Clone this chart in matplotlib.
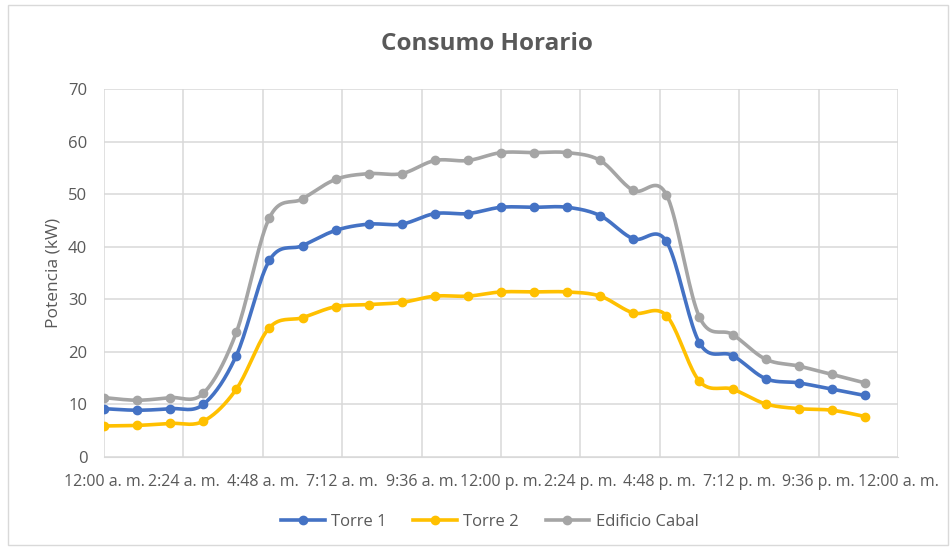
import numpy as np
import matplotlib
matplotlib.use("Agg")
import matplotlib.pyplot as plt
from matplotlib.patches import Rectangle

# hourly readings, 0:00 .. 23:00
hours = list(range(24))
torre1 = [9.2, 8.9, 9.2, 10.0, 19.3, 37.4, 40.2, 43.1, 44.3, 44.3, 46.3, 46.3,
          47.5, 47.5, 47.5, 45.9, 41.5, 41.0, 21.7, 19.3, 14.9, 14.1, 12.9, 11.7]
torre2 = [5.9, 6.0, 6.4, 6.8, 12.9, 24.6, 26.5, 28.6, 29.0, 29.4, 30.6, 30.6,
          31.4, 31.4, 31.4, 30.6, 27.4, 26.9, 14.4, 12.9, 10.1, 9.2, 8.9, 7.7]
cabal = [11.3, 10.8, 11.3, 12.1, 23.7, 45.5, 49.1, 52.8, 53.9, 53.9, 56.4, 56.4,
         57.9, 57.9, 57.9, 56.4, 50.7, 49.9, 26.6, 23.3, 18.6, 17.3, 15.7, 14.1]

tick_hours = [0, 2.4, 4.8, 7.2, 9.6, 12, 14.4, 16.8, 19.2, 21.6, 24]
tick_labels = ["12:00 a. m.", "2:24 a. m.", "4:48 a. m.", "7:12 a. m.", "9:36 a. m.",
               "12:00 p. m.", "2:24 p. m.", "4:48 p. m.", "7:12 p. m.", "9:36 p. m.",
               "12:00 a. m."]

series = [("Torre 1", torre1, "#4472C4"),
          ("Torre 2", torre2, "#FFC000"),
          ("Edificio Cabal", cabal, "#A5A5A5")]


# Excel-like smoothing (Catmull-Rom through the points)
def smooth(x, y, n=20):
    x = np.asarray(x, float)
    y = np.asarray(y, float)
    px = np.concatenate([[x[0]], x, [x[-1]]])
    py = np.concatenate([[y[0]], y, [y[-1]]])
    xs, ys = [], []
    t = np.linspace(0, 1, n)
    for i in range(1, len(px) - 2):
        p0x, p1x, p2x, p3x = px[i-1], px[i], px[i+1], px[i+2]
        p0y, p1y, p2y, p3y = py[i-1], py[i], py[i+1], py[i+2]
        c1x, c1y = p1x + (p2x - p0x) / 6, p1y + (p2y - p0y) / 6
        c2x, c2y = p2x - (p3x - p1x) / 6, p2y - (p3y - p1y) / 6
        bx = (1-t)**3*p1x + 3*(1-t)**2*t*c1x + 3*(1-t)*t**2*c2x + t**3*p2x
        by = (1-t)**3*p1y + 3*(1-t)**2*t*c1y + 3*(1-t)*t**2*c2y + t**3*p2y
        xs.extend(bx)
        ys.extend(by)
    return xs, ys


plt.rcParams['font.family'] = ['Open Sans', 'DejaVu Sans']
txt = "#595959"

fig = plt.figure(figsize=(9.53, 5.5), dpi=100)
ax = fig.add_axes([104/953, 1 - 457/550, (898-104)/953, (457-89)/550])

for name, vals, col in series:
    sx, sy = smooth(hours, vals)
    ax.plot(sx, sy, color=col, lw=2.6, solid_capstyle='round', zorder=3)
    ax.plot(hours, vals, 'o', color=col, ms=6, zorder=4)

ax.set_xlim(0, 24)
ax.set_ylim(0, 70)
ax.set_yticks(range(0, 71, 10))
ax.set_xticks(tick_hours)
ax.set_xticklabels(tick_labels, fontsize=11.5, color=txt)
ax.tick_params(axis='y', labelsize=12, colors=txt, length=0, pad=12)
ax.tick_params(axis='x', length=0, pad=12)
ax.grid(True, color="#D9D9D9", lw=1.1)
ax.set_axisbelow(True)
for s in ax.spines.values():
    s.set_visible(False)
ax.spines['bottom'].set_visible(True)
ax.spines['bottom'].set_color("#D9D9D9")
ax.set_ylabel("Potencia (kW)", fontsize=12.5, color=txt, labelpad=5)

fig.text(487/953, 1 - 44/550, "Consumo Horario", ha='center', va='center',
         fontsize=17.5, fontweight='bold', color=txt)

handles = [plt.Line2D([], [], color=c, lw=2.6, marker='o', ms=6) for _, _, c in series]
fig.legend(handles, [s[0] for s in series], loc='center', bbox_to_anchor=(490/953, 1 - 522/550),
           ncol=3, frameon=False, fontsize=12, labelcolor=txt, handlelength=2.6,
           columnspacing=1.6, handletextpad=0.4)

fig.patches.append(Rectangle((8/953, 5/550), 940/953, 540/550, transform=fig.transFigure,
                             fill=False, edgecolor="#D9D9D9", lw=1))

fig.savefig("out.png", dpi=100)
